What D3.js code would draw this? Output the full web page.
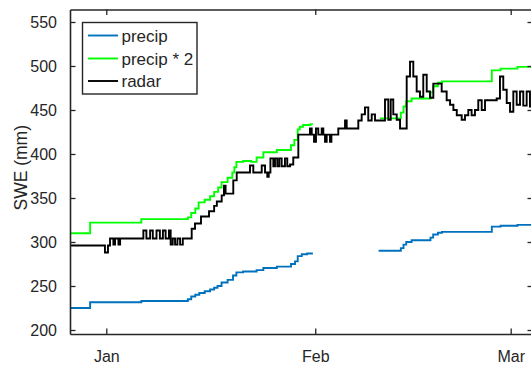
<!DOCTYPE html>
<html>
<head>
<meta charset="utf-8">
<script src="https://cdn.jsdelivr.net/npm/d3@7"></script>
<style>
  body { margin: 0; background: #fff; }
  svg text { font-family: "Liberation Sans", Arial, Helvetica, sans-serif; fill: #262626; }
</style>
</head>
<body>
<svg id="chart" width="531" height="365"></svg>
<script>
// Snow water equivalent, winter 2015/16.
// Each entry: [days since 1 Jan 2016 (UTC), SWE in mm]; null marks missing data.
const precip = [
  [-5.39, 225], [-2.4, 231.5], [5.2, 233], [12.1, 235], [12.6, 238], [13.2, 240],
  [13.8, 242], [14.6, 244], [15.4, 246], [16.0, 248], [16.5, 250], [17.1, 254],
  [18.0, 257], [18.8, 262], [19.3, 265.5], [20.3, 266.5], [22.3, 268], [23.3, 270.5],
  [25.3, 272], [27.4, 275], [28.0, 278], [28.4, 284], [29.0, 286], [29.8, 287],
  [30.65, 287], [30.65, null],
  [40.4, 290], [43.7, 293], [44.1, 297], [44.5, 300], [45.3, 302], [48.1, 305],
  [48.5, 308.5], [49.2, 310.5], [49.8, 311.5], [57.2, 317.5], [58.5, 318.5],
  [61.0, 319.5], [63.31, 320]
];

const precip2 = [
  [-5.39, 310], [-2.4, 322], [5.2, 326], [12.1, 328], [12.6, 333], [13.2, 338],
  [13.7, 345], [14.6, 348], [15.4, 352], [16.0, 357], [16.6, 362], [17.1, 368],
  [18.0, 373], [18.7, 379], [19.0, 385], [19.3, 391], [20.3, 392], [21.5, 391],
  [22.3, 396], [23.3, 402], [25.3, 404.5], [27.4, 410], [27.9, 416], [28.4, 428],
  [28.7, 431], [29.2, 433], [30.3, 434], [30.65, 434], [30.65, null],
  [40.6, 440.5], [43.7, 447], [44.1, 454], [44.5, 460], [45.3, 463], [48.1, 470],
  [48.5, 477], [49.2, 481], [49.8, 482.5], [57.2, 495], [58.5, 497], [61.0, 499],
  [63.31, 500]
];

const radar = [
  [-5.39, 296], [-0.2, 288], [0.25, 296], [0.55, 304], [1.05, 297], [1.3, 304],
  [1.8, 297], [2.05, 304],
  [5.5, 313], [5.95, 304], [6.5, 313], [6.9, 304], [7.45, 313], [7.95, 304],
  [8.4, 313], [8.8, 304], [9.3, 313], [9.55, 297], [9.85, 304], [10.2, 297],
  [10.55, 304], [10.95, 297], [11.35, 304],
  [12.67, 315], [13.16, 321], [14.05, 329], [15.24, 335], [16.0, 341], [16.4, 346],
  [17.12, 353], [17.46, 364], [17.7, 355], [18.84, 370], [19.35, 379],
  [21.32, 387], [21.81, 379], [23.06, 387], [23.55, 379], [23.89, 374], [24.1, 379],
  [24.35, 395], [24.78, 386], [25.03, 395], [25.37, 386], [25.67, 395], [26.02, 386],
  [26.51, 395], [26.85, 386], [27.26, 388], [27.74, 396], [28.49, 422],
  [30.22, 429], [30.48, 422], [30.82, 414], [31.11, 429], [31.45, 422], [31.96, 429],
  [32.2, 422], [32.45, 414], [32.7, 422], [33.19, 414], [33.4, 422], [34.42, 429],
  [35.42, 438], [35.67, 429], [37.39, 438], [37.89, 445], [38.38, 453], [38.87, 438],
  [39.38, 445], [39.87, 438], [41.35, 462], [41.84, 439], [42.2, 462], [42.58, 445],
  [43.09, 439], [43.58, 429], [44.57, 488], [45.06, 505], [45.55, 488], [46.05, 471],
  [46.54, 465], [47.03, 490], [47.54, 471], [48.03, 464], [48.52, 480], [49.76, 471],
  [50.5, 461], [51.0, 456], [51.5, 450], [52.0, 444], [52.73, 439], [53.22, 444],
  [53.71, 450], [54.2, 444], [54.7, 450], [55.19, 461], [55.7, 450], [56.19, 461],
  [57.92, 463], [58.41, 488], [58.9, 473], [59.41, 458], [59.9, 448], [60.39, 471],
  [60.89, 456], [61.38, 471], [61.87, 455], [62.37, 471], [62.86, 454], [63.31, 454]
];

const seriesNames  = ["precip", "precip * 2", "radar"];
const seriesColors = ["#0072BD", "#00FF00", "#000000"];
const yTicks = [200, 250, 300, 350, 400, 450, 500, 550];
const xTickDates = ["2016-01-01", "2016-02-01", "2016-03-01"];
const yLabel = "SWE (mm)";

const DAY = 864e5;
const t0 = Date.UTC(2016, 0, 1);
const toDate = d => new Date(t0 + d * DAY);

const svg = d3.select("#chart");
const plotLeft = 70, plotRight = 533, plotTop = 9.5, plotBottom = 334;
const axisColor = "#262626";

const x = d3.scaleUtc()
  .domain([toDate(-5.386), toDate(63.31)])
  .range([plotLeft, plotRight]);
const y = d3.scaleLinear()
  .domain([195.45, 564.2])
  .range([plotBottom, plotTop]);

svg.append("defs").append("clipPath").attr("id", "plotClip")
  .append("rect").attr("x", plotLeft).attr("y", plotTop)
  .attr("width", plotRight - plotLeft).attr("height", plotBottom - plotTop);

// Step lines (sample-and-hold)
const line = d3.line()
  .defined(d => d[1] != null)
  .x(d => x(toDate(d[0])))
  .y(d => y(d[1]))
  .curve(d3.curveStepAfter);

const plot = svg.append("g").attr("clip-path", "url(#plotClip)");
[precip, precip2, radar].forEach((s, i) => {
  plot.append("path")
    .datum(s)
    .attr("fill", "none")
    .attr("stroke", seriesColors[i])
    .attr("stroke-width", 1.9)
    .attr("stroke-linejoin", "miter")
    .attr("d", line);
});

// Axes with inward ticks on all four sides
const xTicks = xTickDates.map(s => new Date(s + "T00:00:00Z"));
const tickLen = 5.5;

const axBottom = d3.axisBottom(x).tickValues(xTicks).tickFormat(d3.utcFormat("%b"))
  .tickSizeInner(-tickLen).tickSizeOuter(0).tickPadding(17);
const axTop = d3.axisTop(x).tickValues(xTicks).tickFormat("")
  .tickSizeInner(-tickLen).tickSizeOuter(0);
const axLeft = d3.axisLeft(y).tickValues(yTicks)
  .tickSizeInner(-tickLen).tickSizeOuter(0).tickPadding(13);
const axRight = d3.axisRight(y).tickValues(yTicks).tickFormat("")
  .tickSizeInner(-tickLen).tickSizeOuter(0);

function styleAxis(g) {
  g.select(".domain").attr("stroke", axisColor).attr("stroke-width", 1.6);
  g.selectAll(".tick line").attr("stroke", axisColor).attr("stroke-width", 1.3);
  g.selectAll(".tick text").attr("fill", axisColor)
    .style("font-size", "16px")
    .style("font-family", "'Liberation Sans', Arial, Helvetica, sans-serif");
}

svg.append("g").attr("transform", `translate(0,${plotBottom})`).call(axBottom).call(styleAxis);
svg.append("g").attr("transform", `translate(0,${plotTop})`).call(axTop).call(styleAxis);
svg.append("g").attr("transform", `translate(${plotLeft},0)`).call(axLeft).call(styleAxis);
svg.append("g").attr("transform", `translate(${plotRight},0)`).call(axRight).call(styleAxis);

// Y axis label
svg.append("text")
  .attr("transform", `translate(27,${(plotTop + plotBottom) / 2 - 4}) rotate(-90)`)
  .attr("text-anchor", "middle")
  .style("font-size", "17.5px")
  .text(yLabel);

// Legend
const lg = svg.append("g");
lg.append("rect")
  .attr("x", 82.5).attr("y", 22.5).attr("width", 114.5).attr("height", 71.5)
  .attr("fill", "#fff").attr("stroke", axisColor).attr("stroke-width", 1.4);
const rowY = [35.5, 58.5, 81];
seriesNames.forEach((name, i) => {
  lg.append("line")
    .attr("x1", 88).attr("x2", 118).attr("y1", rowY[i]).attr("y2", rowY[i])
    .attr("stroke", seriesColors[i]).attr("stroke-width", 1.9);
  lg.append("text")
    .attr("x", 121.5).attr("y", rowY[i] + 6)
    .style("font-size", "17px")
    .text(name);
});
</script>
</body>
</html>
